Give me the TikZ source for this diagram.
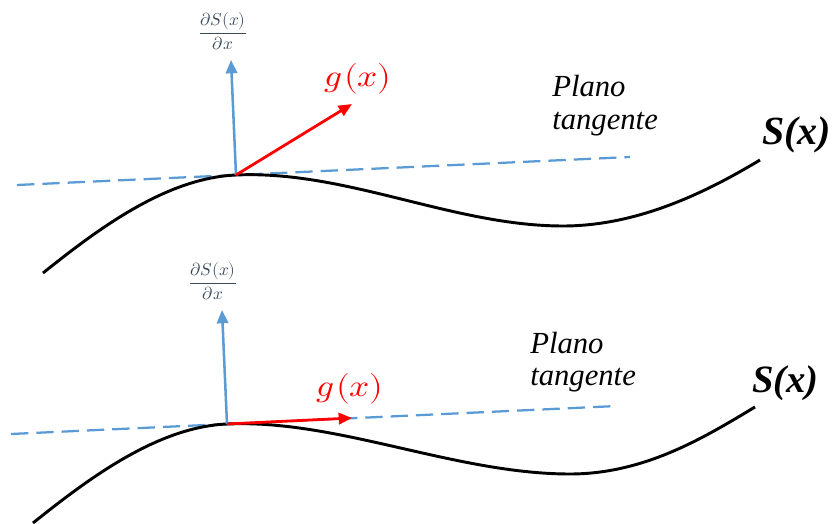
\documentclass[tikz,border=0pt]{standalone}
\usepackage{amsmath}
\usepackage{fontspec}
\usepackage{unicode-math}
\setmathfont{Latin Modern Math}
\newfontfamily\tnr{Liberation Serif}
\usetikzlibrary{arrows.meta}
\definecolor{bluel}{HTML}{5B9BD5}
\definecolor{fraccol}{HTML}{3A4A5C}
\tikzset{
  curve/.style={line width=2.2pt, black},
  tangent/.style={line width=1.7pt, bluel, dash pattern=on 13pt off 6pt},
  normalvec/.style={line width=1.9pt, bluel, -{Triangle[length=10pt,width=8.5pt]}},
  gradvec/.style={line width=2.1pt, red, -{Triangle[length=10pt,width=8.5pt]}},
  fraclbl/.style={text=fraccol, inner sep=0pt, font=\fontsize{13}{15}\selectfont},
  glbl/.style={text=red, inner sep=0pt, font=\fontsize{23}{27}\selectfont, xscale=1.15},
  planolbl/.style={inner sep=0pt, anchor=base west, font=\tnr\fontsize{23}{27}\selectfont\itshape},
  slbl/.style={inner sep=0pt, anchor=base west, font=\tnr\fontsize{30}{34}\selectfont\bfseries\itshape},
}
\begin{document}
\begin{tikzpicture}[x=0.75pt,y=-0.75pt]
\useasboundingbox (0,0) rectangle (832,524);
% ---------- top diagram ----------
\coordinate (p1) at (236,175);
\coordinate (t1a) at (17,185);
\coordinate (t1b) at (630,157);
\coordinate (n1) at (231,60);
\coordinate (g1) at (352,104);
\draw[tangent] (t1a) -- (t1b);
\draw[curve] (43,273) .. controls (98,229) and (166,178) .. (p1)
  .. controls (346,170) and (453,226) .. (563,226)
  .. controls (640,226) and (710,190) .. (760,160);
\draw[normalvec] (p1) -- (n1);
\draw[gradvec] (p1) -- (g1);
\node[fraclbl] (f1) at (223,31) {$\dfrac{\partial S(x)}{\partial x}$};
\node[glbl] (gl1) at (358,79) {$g\mkern1mu(x)$};
\node[planolbl] (pl1a) at (552,97) {Plano};
\node[planolbl] (pl1b) at (552,130) {tangente};
\node[slbl] (s1) at (762,145) {S(x)};
% ---------- bottom diagram ----------
\coordinate (p2) at (227,424);
\coordinate (t2a) at (11,434);
\coordinate (t2b) at (617,406);
\coordinate (n2) at (222,310);
\coordinate (g2) at (352,418);
\draw[tangent] (t2a) -- (t2b);
\draw[curve] (33,523) .. controls (88,479) and (157,427) .. (p2)
  .. controls (337,419) and (455,474) .. (570,474)
  .. controls (645,474) and (705,437) .. (755,407);
\draw[normalvec] (p2) -- (n2);
\draw[gradvec] (p2) -- (g2);
\node[fraclbl] (f2) at (213,281) {$\dfrac{\partial S(x)}{\partial x}$};
\node[glbl] (gl2) at (350,389) {$g\mkern1mu(x)$};
\node[planolbl] (pl2a) at (530,353) {Plano};
\node[planolbl] (pl2b) at (530,385) {tangente};
\node[slbl, font=\tnr\fontsize{29}{33}\selectfont\bfseries\itshape] (s2) at (752,392) {S(x)};
\end{tikzpicture}
\end{document}
